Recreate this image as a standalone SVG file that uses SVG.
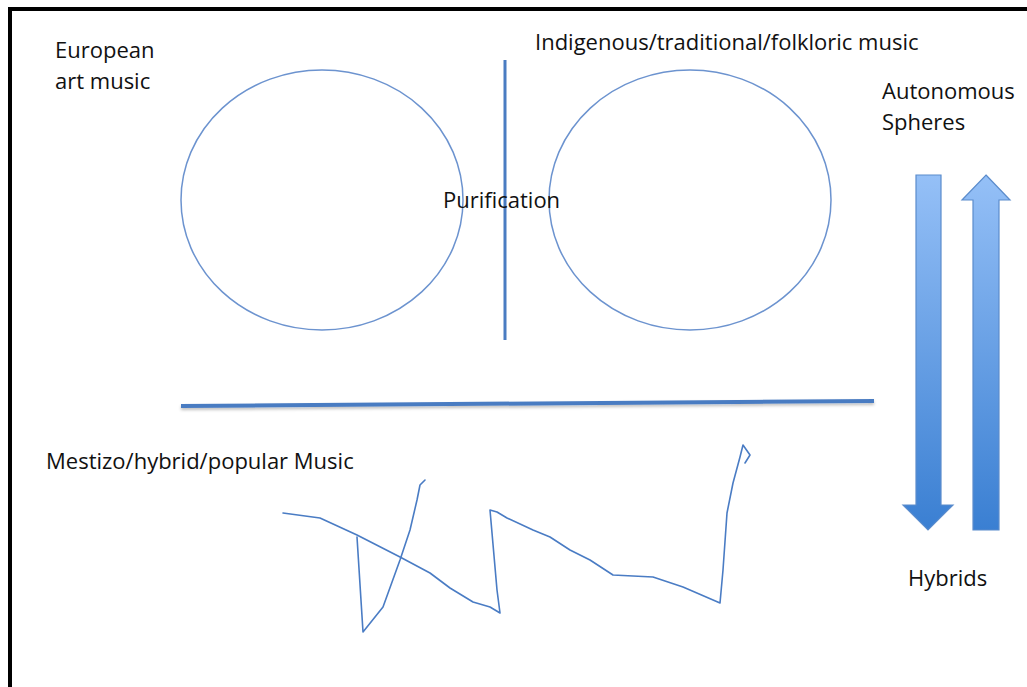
<svg xmlns="http://www.w3.org/2000/svg" width="1027" height="687" viewBox="0 0 1027 687">
<style>
.t{font-family:"Open Sans","Liberation Sans",sans-serif;font-size:22px;fill:#111}
.c{fill:none;stroke:#6c93cf;stroke-width:1.5}
.l{stroke:#4a7cc2;stroke-linecap:butt}
.s{fill:none;stroke:#4a7cc4;stroke-width:1.6;stroke-linejoin:round;stroke-linecap:round}
.a{fill:url(#g);stroke:#5b8ccc;stroke-width:1.2}
</style>
<defs>
<linearGradient id="g" x1="0" y1="0" x2="0" y2="1">
<stop offset="0" stop-color="#95c0f7"/>
<stop offset="1" stop-color="#3a7fd2"/>
</linearGradient>
<filter id="sh" x="-5%" y="-200%" width="110%" height="500%">
<feDropShadow dx="0" dy="2" stdDeviation="1.5" flood-color="#000" flood-opacity="0.25"/>
</filter>
</defs>
<rect x="0" y="0" width="1027" height="687" fill="#fff"/>
<path d="M10,687 V9 H1027" fill="none" stroke="#000" stroke-width="4"/>
<g id="european"><text class="t" x="55" y="58">European</text><text class="t" x="55" y="89">art music</text></g>
<g id="indigenous"><text class="t" x="535" y="50">Indigenous/traditional/folkloric music</text></g>
<g id="autonomous"><text class="t" x="882" y="99">Autonomous</text><text class="t" x="882" y="130">Spheres</text></g>
<g id="circle-left"><ellipse class="c" cx="322" cy="200" rx="141" ry="130"/></g>
<g id="circle-right"><ellipse class="c" cx="690" cy="200" rx="141" ry="130"/></g>
<g id="divider"><line class="l" x1="505" y1="60" x2="505" y2="340" stroke-width="3"/></g>
<g id="purification"><text class="t" x="443" y="208">Purification</text></g>
<g id="hline"><line class="l" x1="181" y1="406" x2="874" y2="401" stroke-width="4" filter="url(#sh)"/></g>
<g id="mestizo"><text class="t" x="46" y="469">Mestizo/hybrid/popular Music</text></g>
<g id="squiggle">
<path class="s" d="M283,513 L320,518 L357,535 L400,557 L430,573 L450,588 L473,602 L490,607 L500,613 L497,590 L490,510 L497,512 L507,518 L533,530 L550,537 L570,550 L590,560 L613,575 L653,577 L683,587 L720,603 L723,570 L727,513 L733,483 L740,457 L743,445 L750,455 L745,463"/>
<path class="s" d="M357,537 L363,632 L383,607 L400,560 L410,530 L417,500 L420,485 L425,480"/>
</g>
<g id="connectors">
<path class="a" d="M916,175 H941 V505 H953 L928,530 L903,505 H916 Z"/>
<path class="a" d="M986,175 L1010,200 H999 V530 H973 V200 H962 Z"/>
</g>
<g id="hybrids"><text class="t" x="908" y="586">Hybrids</text></g>
</svg>
